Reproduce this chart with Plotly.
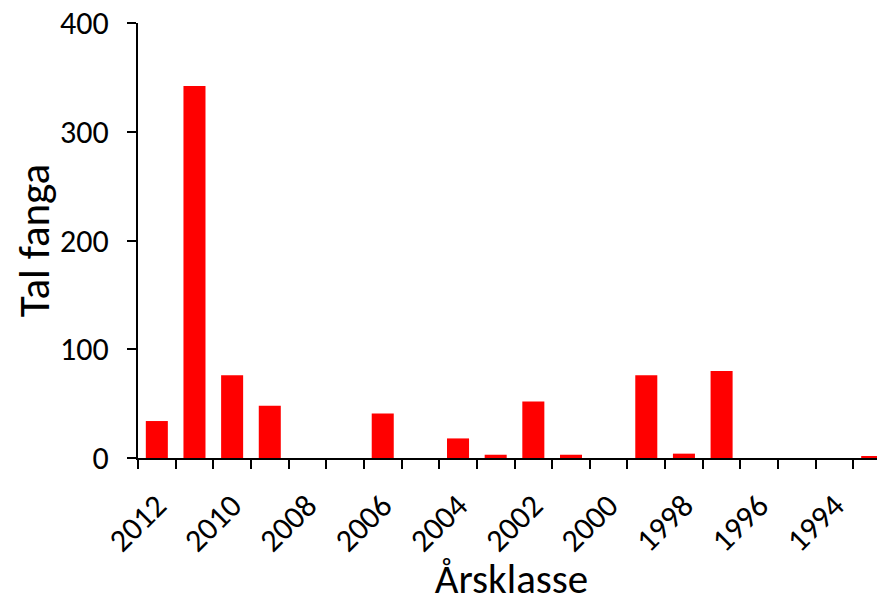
import plotly.graph_objects as go

years = [2012, 2011, 2010, 2009, 2008, 2007, 2006, 2005, 2004, 2003,
         2002, 2001, 2000, 1999, 1998, 1997, 1996, 1995, 1994, 1993]
counts = [34, 342, 76, 48, 0, 0, 41, 0, 18, 3,
          52, 3, 0, 76, 4, 80, 0, 0, 0, 1]
label_years = [2012, 2010, 2008, 2006, 2004, 2002, 2000, 1998, 1996, 1994]
y_ticks = [0, 100, 200, 300, 400]

FONT = "Carlito, Lato, sans-serif"

fig = go.Figure(go.Bar(x=years, y=counts, width=0.585,
                       marker=dict(color="#FF0000", line=dict(width=0))))

# page body has an 8px margin, so the figure is 8px smaller than the window
fig.update_layout(
    width=877, height=596,
    margin=dict(l=130, r=0, t=15, b=146, autoexpand=False),
    plot_bgcolor="white", paper_bgcolor="white",
    font=dict(family=FONT, color="black", size=32),
    showlegend=False,
)
fig.update_xaxes(
    automargin=False,
    range=[2012.5, 1992.66],
    tickmode="array", tickvals=label_years, ticktext=[str(v) for v in label_years],
    ticks="", tickangle=-45, tickfont=dict(size=32), ticklabelstandoff=14,
    minor=dict(tickmode="array", tickvals=[y + 0.5 for y in years],
               ticks="outside", ticklen=9, tickwidth=2, tickcolor="black", showgrid=False),
    showline=True, linecolor="black", linewidth=2, showgrid=False, zeroline=False,
    title=dict(text="Årsklasse", font=dict(size=41), standoff=10),
)
fig.update_yaxes(
    automargin=False,
    range=[0, 400], tickmode="array", tickvals=y_ticks,
    ticks="outside", ticklen=9, tickwidth=2, tickcolor="black",
    tickfont=dict(size=32), ticklabelstandoff=12, ticklabeloverflow="allow",
    showline=True, linecolor="black", linewidth=2, showgrid=False, zeroline=False,
    title=dict(text="Tal fanga", font=dict(size=43), standoff=20),
)

fig.write_html("out.html")
